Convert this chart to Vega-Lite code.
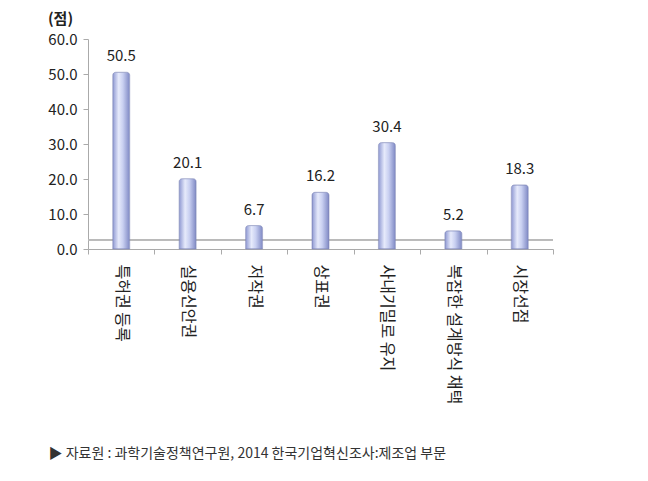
{
  "$schema": "https://vega.github.io/schema/vega-lite/v6.json",
  "width": 465,
  "height": 210,
  "autosize": "none",
  "padding": {"left": 88, "top": 39, "right": 95, "bottom": 232},
  "background": "white",
  "config": {"view": {"stroke": null}, "font": "Noto Sans CJK KR"},
  "data": {"values": [
    {"cat": "특허권 등록", "v": 50.5},
    {"cat": "실용신안권", "v": 20.1},
    {"cat": "저작권", "v": 6.7},
    {"cat": "상표권", "v": 16.2},
    {"cat": "사내기밀로 유지", "v": 30.4},
    {"cat": "복잡한 설계방식 채택", "v": 5.2},
    {"cat": "시장선점", "v": 18.3}
  ]},
  "encoding": {
    "x": {"field": "cat", "type": "nominal", "sort": null,
      "scale": {"paddingInner": 0, "paddingOuter": 0},
      "axis": {
        "labelAngle": 90, "labelAlign": "left", "labelBaseline": "middle",
        "labelFontSize": 16, "labelColor": "#222", "labelPadding": 10,
        "tickBand": "extent", "tickSize": 5, "tickColor": "#aaa", "domainColor": "#aaa",
        "title": "▶ 자료원 : 과학기술정책연구원, 2014 한국기업혁신조사:제조업  부문",
        "titleFontSize": 14, "titleFontWeight": "normal", "titleColor": "#333",
        "titleAnchor": "start", "titleAlign": "left", "titleX": -40, "titleY": 204, "titleBaseline": "middle"
      }
    },
    "y": {"field": "v", "type": "quantitative",
      "scale": {"domain": [0, 60], "nice": false},
      "axis": {
        "values": [0, 10, 20, 30, 40, 50, 60], "format": ".1f", "grid": false,
        "labelFontSize": 15, "labelColor": "#222", "labelPadding": 6,
        "tickSize": 5, "tickColor": "#aaa", "domainColor": "#aaa",
        "title": "(점)", "titleAngle": 0, "titleFontSize": 15, "titleFontWeight": "bold",
        "titleColor": "#222", "titleX": -28, "titleY": -21, "titleAlign": "center", "titleBaseline": "middle"
      }
    }
  },
  "layer": [
    {
      "mark": {"type": "rule", "color": "#bbb", "strokeWidth": 1},
      "encoding": {"y": {"datum": 2.6}, "x": {}}
    },
    {
      "mark": {"type": "bar", "size": 17, "cornerRadiusTopLeft": 3, "cornerRadiusTopRight": 3,
        "stroke": "#8088b8", "strokeWidth": 0.6,
        "color": {"gradient": "linear", "x1": 0, "x2": 1, "y1": 0, "y2": 0,
          "stops": [
            {"offset": 0, "color": "#8e98d2"},
            {"offset": 0.35, "color": "#e6eafb"},
            {"offset": 0.6, "color": "#c9d0f1"},
            {"offset": 1, "color": "#7f89c4"}
          ]}
      }
    },
    {
      "mark": {"type": "text", "baseline": "bottom", "dy": -8, "fontSize": 15, "color": "#222"},
      "encoding": {"text": {"field": "v", "type": "quantitative", "format": ".1f"}}
    }
  ]
}
